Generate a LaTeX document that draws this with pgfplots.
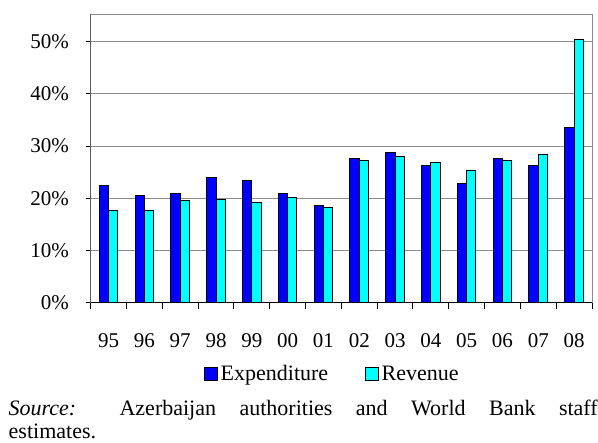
\documentclass[border=0pt]{standalone}
\usepackage{pgfplots}
\pgfplotsset{compat=1.18}
\usepackage{fontspec}
\setmainfont{Liberation Serif}
\definecolor{expcol}{RGB}{0,0,255}
\definecolor{revcol}{RGB}{0,255,255}
\definecolor{gridgray}{RGB}{140,140,140}
\begin{document}
\begin{tikzpicture}[x=1pt,y=1pt]
\useasboundingbox (0,0) rectangle (598,443);
\begin{axis}[
  at={(90.7pt,140.3pt)}, anchor=south west,
  scale only axis, width=501.3pt, height=288.4pt,
  xmin=-0.5, xmax=13.5, ymin=0, ymax=55.25,
  ybar=0pt, bar width=0.26,
  xtick={0,...,13},
  xticklabels={95,96,97,98,99,00,01,02,03,04,05,06,07,08},
  minor xtick={-0.5,0.5,...,13.5},
  major x tick style={draw=none},
  ytick={0,10,20,30,40,50},
  yticklabels={0\%,10\%,20\%,30\%,40\%,50\%},
  tick pos=left, tick align=outside,
  major tick length=5pt, minor tick length=6pt,
  tick style={black, line width=1pt},
  ymajorgrids, major grid style={gridgray, line width=1pt},
  axis line style={gridgray, line width=1pt},
  tick label style={font=\fontsize{21}{21}\selectfont},
  xticklabel style={anchor=base, inner sep=0pt, yshift=-40pt},
  yticklabel style={anchor=east, inner sep=0pt, xshift=-16.7pt},
  legend style={at={(axis description cs:0.226,-0.247)}, anchor=west,
    draw=none, fill=none, inner sep=0pt, legend columns=2,
    font=\fontsize{22}{22}\selectfont,
    nodes={inner sep=0pt},
    /tikz/every odd column/.append style={column sep=2.5pt},
    /tikz/every even column/.append style={column sep=37pt}},
  legend image code/.code={\draw[#1, draw=black, line width=1pt] (0pt,-6.5pt) rectangle (13pt,6.5pt);},
]
\addplot[fill=expcol, draw=black, line width=1pt] coordinates {
 (0,22.4) (1,20.5) (2,20.9) (3,23.9) (4,23.5) (5,20.9) (6,18.7)
 (7,27.7) (8,28.8) (9,26.2) (10,22.8) (11,27.7) (12,26.2) (13,33.6)};
\addplot[fill=revcol, draw=black, line width=1pt] coordinates {
 (0,17.6) (1,17.6) (2,19.5) (3,19.8) (4,19.1) (5,20.2) (6,18.3)
 (7,27.3) (8,28.0) (9,26.9) (10,25.4) (11,27.3) (12,28.4) (13,50.4)};
\legend{Expenditure,Revenue}
\draw[black, line width=1.5pt] (rel axis cs:0,1) -- (rel axis cs:0,0) -- (rel axis cs:1,0);
\end{axis}
\node[anchor=base west, inner sep=0pt, font=\fontsize{22}{22}\selectfont] at (8.5,27)
  {\makebox[589pt][s]{\textit{Source:} Azerbaijan authorities and World Bank staff}};
\node[anchor=base west, inner sep=0pt, font=\fontsize{22}{22}\selectfont] at (8.5,4) {estimates.};
\end{tikzpicture}
\end{document}
